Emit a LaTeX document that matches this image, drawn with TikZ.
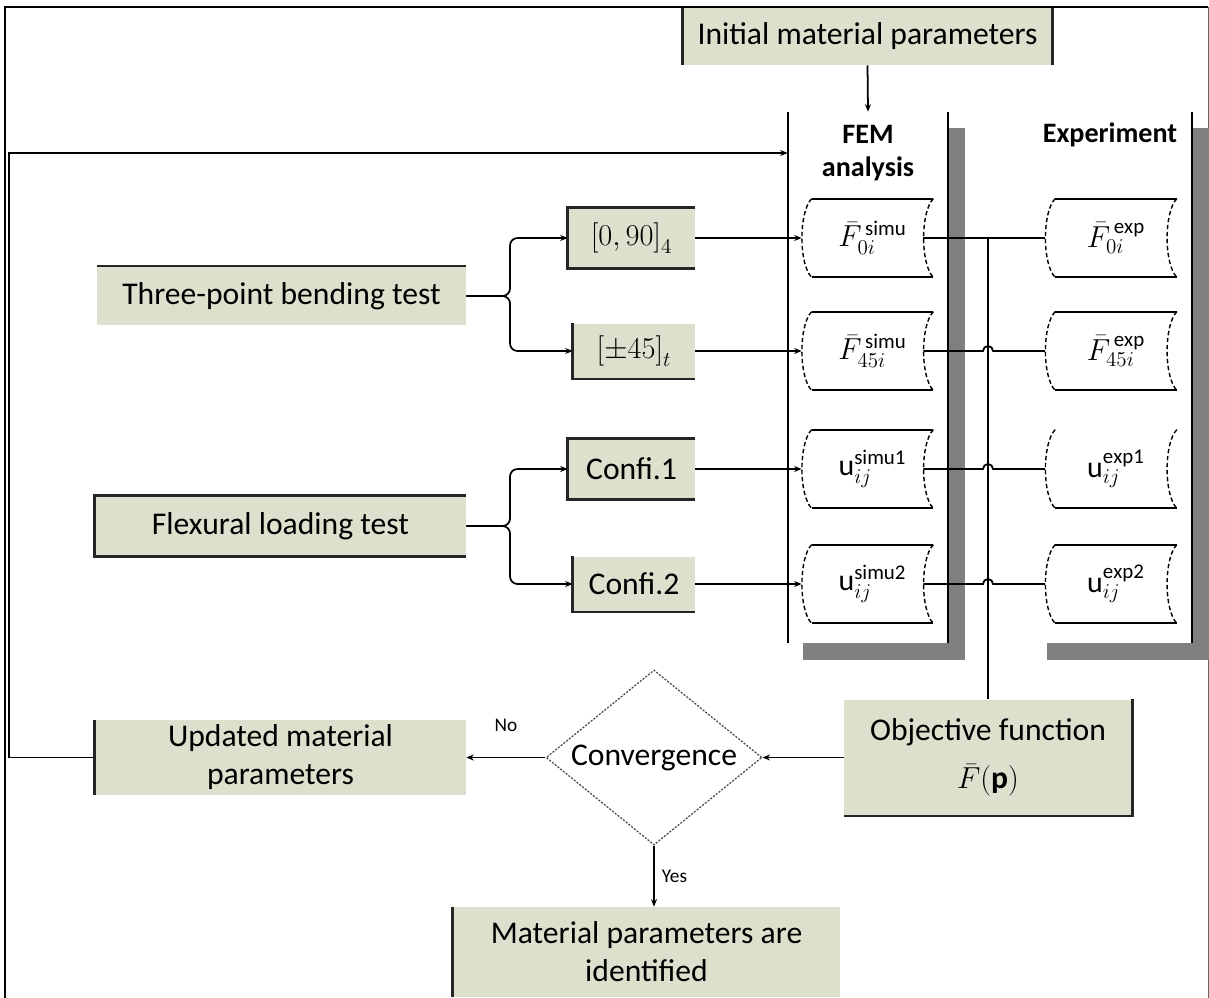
\documentclass[tikz,border=0pt]{standalone}
\usepackage{fontspec}
\setmainfont{Carlito}
\usetikzlibrary{shapes.geometric,arrows.meta,calc}
\definecolor{boxfill}{RGB}{222,223,205}
\definecolor{shadowgray}{RGB}{128,128,128}
\newcommand{\datanode}[4]{%
  \node[datab] (#1) at (#2,#3) {#4};
  \draw[dside] (#1.north west) .. controls +(-13,13) and +(-13,-13) .. (#1.south west);
  \draw[dside] (#1.north east) .. controls +(-13,13) and +(-13,-13) .. (#1.south east);
  \coordinate (#1-in) at ($(#1.west)+(-10,0)$);
  \coordinate (#1-out) at ($(#1.east)+(-10,0)$);
}
\begin{document}
\begin{tikzpicture}[x=0.02cm,y=-0.02cm,
  arr/.style={-{Stealth[length=1.5mm,width=1.2mm]}, line width=1pt},
  conn/.style={line width=1pt},
  edge/.style={line width=1.5pt, black!85},
  pbox/.style={fill=boxfill, inner sep=0pt, align=center, font=\fontsize{18}{21.6}\selectfont},
  datab/.style={inner sep=0pt, minimum width=2.42cm, minimum height=1.56cm, font=\fontsize{17}{20}\selectfont},
  dside/.style={line width=0.8pt, dash pattern=on 2.5pt off 1.5pt},
  dtb/.style={line width=1.2pt},
  col/.style={inner sep=0pt, minimum width=3.2cm, minimum height=10.62cm},
  hdr/.style={font=\bfseries\fontsize{16}{18.8}\selectfont, align=center, inner sep=0pt},
  lbl/.style={font=\fontsize{11}{13}\selectfont, inner sep=0pt}]
\useasboundingbox (0,0) rectangle (1209,997);
\draw[line width=0.7pt] (5,1000) -- (5,7) -- (1208,7);
\draw[line width=0.5pt, black!60] (1208,7) -- (1208,1000);

% columns
\node[col] (fem) at (868,377.5) {};
\node[col] (exp) at (1112,377.5) {};
\fill[shadowgray] ($(fem.north east)+(0,16)$) rectangle ($(fem.south east)+(17,17)$);
\fill[shadowgray] ($(fem.south west)+(15,0)$) rectangle ($(fem.south east)+(17,17)$);
\fill[shadowgray] ($(exp.north east)+(0,16)$) rectangle ($(exp.south east)+(17,17)$);
\fill[shadowgray] ($(exp.south west)+(15,0)$) rectangle ($(exp.south east)+(17,17)$);
\draw[line width=1.2pt] (fem.north west) -- (fem.south west) (fem.north east) -- (fem.south east) (exp.north east) -- (exp.south east);
\node[hdr] (femh) at (868,153) {FEM\\analysis};
\node[hdr] (exph) at (1110,135) {Experiment};

% top box
\node[pbox, minimum width=7.38cm, minimum height=1.14cm] (init) at (867.5,36.5) {Initial material parameters};
\draw[edge] (init.north west) -- (init.south west) (init.north east) -- (init.south east);

% test boxes
\node[pbox, minimum width=7.38cm, minimum height=1.18cm] (tpb) at (281.5,296) {Three-point bending test};
\draw[edge] (tpb.north west) -- (tpb.north east);
\node[pbox, minimum width=7.42cm, minimum height=1.2cm] (flt) at (280.5,526) {Flexural loading test};
\draw[edge] (flt.north east) -- (flt.north west) -- (flt.south west) -- (flt.south east);

% specimen boxes
\node[pbox, minimum width=2.54cm, minimum height=1.2cm] (b090) at (631.5,238) {$\bigl[0,90\bigr]_4$};
\draw[edge] (b090.north east) -- (b090.north west) -- (b090.south west) -- (b090.south east);
\node[pbox, minimum width=2.44cm, minimum height=1.1cm] (b45) at (634,351) {$\bigl[\pm45\bigr]_t$};
\draw[edge] (b45.north west) -- (b45.south west) -- (b45.south east);
\node[pbox, minimum width=2.54cm, minimum height=1.2cm] (c1) at (631.5,469) {Confi.1};
\draw[edge] (c1.north east) -- (c1.north west) -- (c1.south west) -- (c1.south east);
\node[pbox, minimum width=2.44cm, minimum height=1.1cm] (c2) at (634,584) {Confi.2};
\draw[edge] (c2.north west) -- (c2.south west) -- (c2.south east);

% data boxes
\datanode{f1}{872.5}{238}{$\bar{F}^{\,\mathrm{simu}}_{0i}$}
\datanode{f2}{872.5}{351}{$\bar{F}^{\,\mathrm{simu}}_{45i}$}
\datanode{f3}{872.5}{469}{$\mathrm{u}^{\mathrm{simu1}}_{ij}$}
\datanode{f4}{872.5}{584}{$\mathrm{u}^{\mathrm{simu2}}_{ij}$}
\datanode{e1}{1116}{238}{$\bar{F}^{\,\mathrm{exp}}_{0i}$}
\datanode{e2}{1116}{351}{$\bar{F}^{\,\mathrm{exp}}_{45i}$}
\datanode{e3}{1116}{469}{$\mathrm{u}^{\mathrm{exp1}}_{ij}$}
\datanode{e4}{1116}{584}{$\mathrm{u}^{\mathrm{exp2}}_{ij}$}
\foreach \n in {f1,f2,f3,f4,e1,e2,e4} \draw[dtb] (\n.north west) -- (\n.north east);
\foreach \n in {f1,f2,f3,f4,e1,e2,e3,e4} \draw[dtb] (\n.south west) -- (\n.south east);

% lower boxes
\node[pbox, minimum width=5.76cm, minimum height=2.32cm] (obj) at (988,757.5) {Objective function\\[6pt]$\bar{F}(\mathbf{p})$};
\draw[edge] (obj.north east) -- (obj.south east) -- (obj.south west);
\node[draw=black!70, line width=0.7pt, dash pattern=on 1.2pt off 0.8pt, shape=diamond, aspect=1.23, inner sep=0pt,
      minimum width=4.32cm, minimum height=3.5cm, font=\fontsize{18}{21.6}\selectfont] (conv) at (654,757.5) {Convergence};
\node[pbox, minimum width=7.42cm, minimum height=1.5cm] (upd) at (280.5,757.5) {Updated material\\parameters};
\draw[edge] (upd.north west) -- (upd.south west);
\node[pbox, minimum width=7.74cm, minimum height=1.8cm] (fin) at (646.5,952) {Material parameters are\\identified};
\draw[edge] (fin.north west) -- (fin.south west);

% connectors
\draw[arr] (init.south) -- (fem.north);
\coordinate (fk1) at (510,296);
\coordinate (fk2) at (510,526);
\draw[arr, rounded corners=0.15cm] (tpb.east) -- (fk1) |- (b090.west);
\draw[arr, rounded corners=0.15cm] (tpb.east) -- (fk1) |- (b45.west);
\draw[arr, rounded corners=0.15cm] (flt.east) -- (fk2) |- (c1.west);
\draw[arr, rounded corners=0.15cm] (flt.east) -- (fk2) |- (c2.west);
\draw[arr] (b090.east) -- (f1-in);
\draw[arr] (b45.east) -- (f2-in);
\draw[arr] (c1.east) -- (f3-in);
\draw[arr] (c2.east) -- (f4-in);
\draw[conn] (f1-out) -- (e1-in);
\draw[conn] (obj.north |- f1-out) -- (obj.north);
\foreach \r in {2,3,4}
  \draw[conn] (f\r-out) -- ($(obj.north |- f\r-out)+(-5,0)$) arc[start angle=180,end angle=0,radius=0.1cm] -- (e\r-in);
\draw[arr] (obj.west) -- (conv.east);
\draw[arr] (conv.west) -- node[lbl, midway, above=0.5cm] {No} (upd.east);
\draw[arr] (conv.south) -- node[lbl, midway, right=4pt] {Yes} (conv.south |- fin.north);
\coordinate (fbc) at (9,153);
\draw[arr] (upd.west) -| (fbc) -- (fbc -| fem.west);
\end{tikzpicture}
\end{document}
